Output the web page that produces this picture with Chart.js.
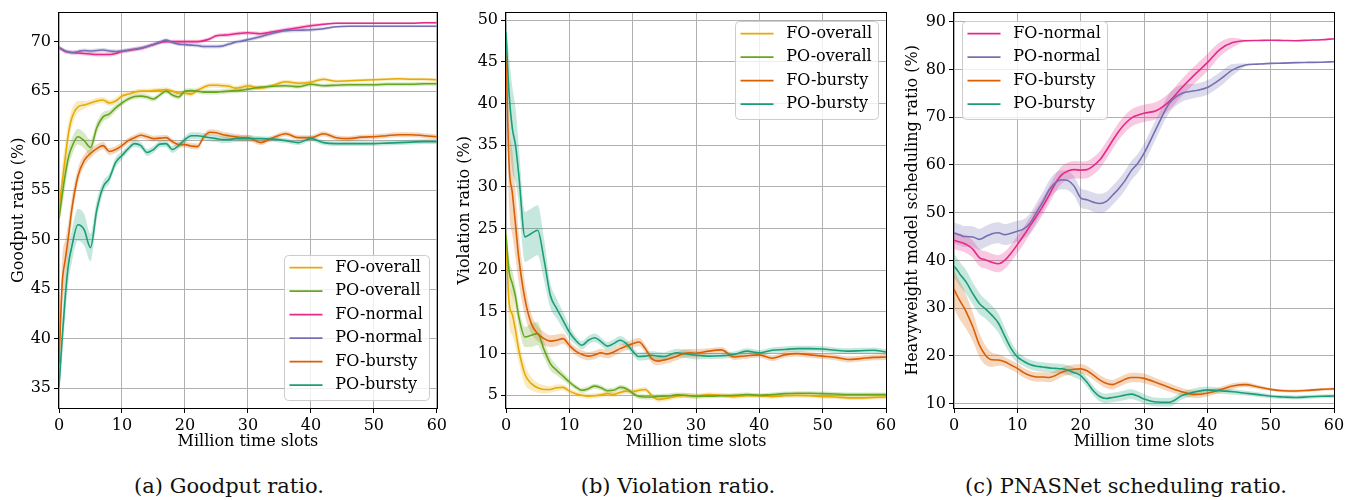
<!DOCTYPE html>
<html>
<head>
<meta charset="utf-8">
<title>Goodput, violation and scheduling ratio</title>
<script src="https://cdn.jsdelivr.net/npm/chart.js@4.4.0/dist/chart.umd.min.js"></script>
<style>
    body { margin: 0; background: #fff; width: 1357px; height: 500px; position: relative; overflow: hidden; }
    canvas { position: absolute; top: 0; }
    .cap { position: absolute; top: 474px; width: 420px; line-height: 25px; text-align: center;
           font-family: "DejaVu Serif", serif; font-size: 21px; color: #111; }
</style>
</head>
<body>

<canvas id="goodput" width="450" height="460" style="left:0"></canvas>
<canvas id="violation" width="450" height="460" style="left:450px"></canvas>
<canvas id="sched" width="457" height="460" style="left:900px"></canvas>

<div class="cap" style="left:19px">(a) Goodput ratio.</div>
<div class="cap" style="left:468px">(b) Violation ratio.</div>
<div class="cap" style="left:916px">(c) PNASNet scheduling ratio.</div>

<script>

    // million time slots (shared x positions)
    const slots = [0, 0.5, 1, 1.5, 2, 3, 4, 5, 6, 7, 8, 9, 10,
        11, 12, 13, 14, 15, 16, 17, 18, 19, 20,
        21, 22, 23, 24, 25, 26, 27, 28, 29, 30,
        32, 34, 36, 38, 40, 42, 44, 46, 48, 50, 52, 54, 56, 58, 60]

    // (a) goodput ratio (%)
    const goodputFOoverall = [53.0, 55.8, 58.3, 60.7, 62.2, 63.4, 63.6, 63.8, 64.0, 64.1, 63.8, 64.0, 64.5,
        64.7, 64.9, 65.0, 65.0, 65.05, 65.1, 65.15, 65.0, 64.8, 64.8,
        64.7, 65.1, 65.4, 65.6, 65.6, 65.55, 65.5, 65.3, 65.4, 65.55,
        65.3, 65.6, 65.95, 65.8, 65.9, 66.2, 66.0, 66.05, 66.1, 66.15, 66.2, 66.25, 66.2, 66.2, 66.15]
    const goodputPOoverall = [52.1, 54.5, 56.6, 58.3, 59.3, 60.4, 60.0, 59.3, 61.3, 62.4, 62.7, 63.3, 63.8,
        64.2, 64.45, 64.5, 64.4, 64.2, 64.6, 65.0, 64.6, 64.4, 65.0,
        65.05, 65.0, 64.9, 64.9, 64.9, 64.95, 65.0, 65.05, 65.1, 65.2,
        65.4, 65.5, 65.55, 65.45, 65.7, 65.55, 65.6, 65.65, 65.65, 65.65, 65.7, 65.7, 65.7, 65.75, 65.75]
    const goodputFOnormal = [69.4, 69.2, 69.0, 68.95, 68.9, 68.85, 68.8, 68.75, 68.7, 68.7, 68.7, 68.8, 69.0,
        69.1, 69.2, 69.3, 69.5, 69.7, 69.9, 70.0, 70.0, 70.0, 70.0,
        70.0, 70.0, 70.1, 70.3, 70.6, 70.65, 70.7, 70.8, 70.85, 70.9,
        70.8, 71.0, 71.2, 71.4, 71.6, 71.75, 71.85, 71.85, 71.85, 71.85, 71.85, 71.85, 71.85, 71.9, 71.9]
    const goodputPOnormal = [69.4, 69.2, 69.05, 68.95, 68.9, 69.0, 69.1, 69.05, 69.1, 69.15, 69.05, 69.0, 69.05,
        69.15, 69.25, 69.35, 69.5, 69.7, 69.95, 70.15, 69.9, 69.75, 69.7,
        69.65, 69.6, 69.5, 69.5, 69.5, 69.55, 69.75, 69.95, 70.05, 70.2,
        70.5, 70.85, 71.1, 71.15, 71.2, 71.3, 71.5, 71.55, 71.55, 71.55, 71.55, 71.55, 71.55, 71.55, 71.55]
    const goodputFObursty = [37.5, 45.5, 48.0, 50.3, 52.9, 56.4, 58.0, 58.7, 59.2, 59.5, 58.9, 59.1, 59.5,
        60.0, 60.3, 60.55, 60.4, 60.2, 60.25, 60.3, 59.9, 59.6, 59.6,
        59.45, 59.4, 60.4, 60.85, 60.8, 60.6, 60.5, 60.4, 60.3, 60.3,
        59.8, 60.3, 60.7, 60.3, 60.3, 60.7, 60.3, 60.2, 60.35, 60.4, 60.5, 60.6, 60.6, 60.5, 60.4]
    const goodputPObursty = [35.1, 40.0, 44.3, 47.5, 49.2, 51.5, 51.0, 49.2, 53.0, 55.3, 56.2, 57.8, 58.5,
        59.2, 59.7, 59.5, 58.8, 59.1, 59.65, 59.7, 59.1, 59.5, 60.1,
        60.5, 60.5, 60.4, 60.3, 60.2, 60.1, 60.1, 60.2, 60.2, 60.2,
        60.2, 60.15, 60.0, 59.8, 60.2, 59.8, 59.7, 59.7, 59.7, 59.7, 59.75, 59.8, 59.85, 59.9, 59.9]

    // half width of the shaded bands
    const goodputFOoverallSpread = [0.3, 1.5, 1.5, 1.2, 0.9, 0.6, 0.4, 0.3, 0.3, 0.3, 0.3, 0.3, 0.3,
        0.25, 0.25, 0.25, 0.25, 0.25, 0.25, 0.25, 0.25, 0.25, 0.25,
        0.25, 0.25, 0.25, 0.25, 0.25, 0.25, 0.25, 0.25, 0.25, 0.25,
        0.2, 0.2, 0.2, 0.2, 0.2, 0.2, 0.15, 0.15, 0.15, 0.15, 0.15, 0.15, 0.15, 0.15, 0.15]
    const goodputPOoverallSpread = [0.5, 1.2, 1.2, 1.0, 0.9, 0.8, 0.8, 0.8, 0.6, 0.5, 0.4, 0.35, 0.3,
        0.25, 0.25, 0.25, 0.25, 0.25, 0.25, 0.25, 0.25, 0.25, 0.25,
        0.25, 0.25, 0.25, 0.25, 0.25, 0.25, 0.25, 0.25, 0.25, 0.25,
        0.2, 0.2, 0.2, 0.2, 0.2, 0.2, 0.2, 0.2, 0.2, 0.2, 0.2, 0.2, 0.2, 0.2, 0.2]
    const goodputFOnormalSpread = [0.2, 0.2, 0.2, 0.2, 0.2, 0.2, 0.2, 0.2, 0.2, 0.2, 0.2, 0.2, 0.2,
        0.2, 0.2, 0.2, 0.2, 0.2, 0.2, 0.2, 0.2, 0.2, 0.2,
        0.2, 0.2, 0.2, 0.2, 0.2, 0.2, 0.2, 0.2, 0.2, 0.2,
        0.2, 0.2, 0.2, 0.2, 0.2, 0.15, 0.1, 0.1, 0.1, 0.1, 0.1, 0.1, 0.1, 0.1, 0.1]
    const goodputPOnormalSpread = [0.2, 0.2, 0.2, 0.2, 0.2, 0.2, 0.2, 0.2, 0.2, 0.2, 0.2, 0.2, 0.2,
        0.2, 0.2, 0.2, 0.2, 0.2, 0.2, 0.2, 0.2, 0.2, 0.2,
        0.2, 0.2, 0.2, 0.2, 0.2, 0.2, 0.2, 0.2, 0.2, 0.2,
        0.2, 0.2, 0.2, 0.2, 0.2, 0.15, 0.1, 0.1, 0.1, 0.1, 0.1, 0.1, 0.1, 0.1, 0.1]
    const goodputFOburstySpread = [0.5, 2.5, 2.0, 1.5, 1.2, 0.8, 0.6, 0.5, 0.4, 0.4, 0.35, 0.35, 0.35,
        0.3, 0.3, 0.3, 0.3, 0.3, 0.3, 0.3, 0.3, 0.3, 0.3,
        0.3, 0.3, 0.3, 0.3, 0.3, 0.3, 0.3, 0.3, 0.3, 0.3,
        0.25, 0.25, 0.25, 0.25, 0.25, 0.25, 0.25, 0.25, 0.25, 0.25, 0.25, 0.25, 0.25, 0.25, 0.25]
    const goodputPOburstySpread = [0.8, 2.0, 2.0, 1.8, 1.6, 1.6, 1.6, 1.4, 1.0, 0.6, 0.5, 0.5, 0.4,
        0.35, 0.35, 0.35, 0.35, 0.35, 0.35, 0.35, 0.35, 0.35, 0.35,
        0.35, 0.35, 0.35, 0.35, 0.35, 0.35, 0.35, 0.35, 0.35, 0.35,
        0.25, 0.25, 0.25, 0.25, 0.25, 0.25, 0.25, 0.25, 0.25, 0.25, 0.25, 0.25, 0.25, 0.25, 0.25]

    // (b) violation ratio (%)
    const violationFOoverall = [23.5, 16.0, 14.7, 12.8, 10.5, 7.5, 6.4, 5.9, 5.7, 5.7, 5.9, 5.95, 5.5,
        5.2, 5.0, 4.9, 4.95, 5.05, 5.2, 5.1, 5.35, 5.5, 5.45,
        5.6, 5.7, 5.0, 4.5, 4.6, 4.75, 4.9, 5.0, 4.95, 4.9,
        5.1, 5.0, 4.85, 4.95, 4.95, 4.85, 4.95, 5.0, 4.95, 4.85, 4.8, 4.7, 4.7, 4.75, 4.8]
    const violationPOoverall = [24.2, 19.8, 18.4, 16.8, 14.5, 12.0, 12.2, 12.4, 10.5, 8.8, 8.0, 7.3, 6.6,
        6.0, 5.6, 5.8, 6.1, 5.9, 5.55, 5.6, 5.95, 5.8, 5.25,
        4.85, 4.8, 4.8, 4.85, 4.9, 4.95, 5.05, 5.0, 4.95, 4.9,
        4.9, 4.95, 5.0, 5.1, 5.0, 5.1, 5.2, 5.25, 5.25, 5.2, 5.15, 5.1, 5.1, 5.1, 5.1]
    const violationFObursty = [46.0, 32.5, 29.3, 25.5, 21.6, 16.5, 13.6, 12.4, 11.8, 11.5, 11.6, 11.8, 11.0,
        10.3, 9.9, 9.7, 9.85, 10.1, 9.95, 10.2, 10.6, 10.9, 11.2,
        11.4, 10.6, 9.4, 9.1, 9.25, 9.45, 9.7, 10.0, 10.1, 10.05,
        10.3, 10.45, 9.6, 9.75, 9.85, 9.45, 9.85, 10.0, 9.85, 9.7, 9.55, 9.3, 9.4, 9.55, 9.6]
    const violationPObursty = [48.5, 41.0, 37.0, 35.0, 31.6, 24.0, 24.4, 24.8, 21.3, 17.0, 15.4, 14.0, 12.6,
        11.6, 11.0, 11.6, 11.9, 11.45, 10.9, 11.2, 11.6, 11.2, 10.3,
        9.65, 9.7, 9.8, 9.7, 9.65, 9.9, 10.1, 10.0, 9.9, 9.8,
        9.7, 9.75, 9.9, 10.3, 10.1, 10.4, 10.5, 10.6, 10.6, 10.55, 10.4, 10.3, 10.35, 10.4, 10.2]

    const violationFOoverallSpread = [1.5, 2.5, 2.5, 2.0, 1.5, 1.2, 0.8, 0.6, 0.5, 0.4, 0.4, 0.35, 0.35,
        0.3, 0.3, 0.3, 0.3, 0.3, 0.3, 0.3, 0.3, 0.3, 0.3,
        0.3, 0.3, 0.3, 0.3, 0.3, 0.3, 0.3, 0.3, 0.3, 0.3,
        0.25, 0.25, 0.25, 0.25, 0.25, 0.25, 0.25, 0.25, 0.25, 0.25, 0.25, 0.25, 0.25, 0.25, 0.25]
    const violationPOoverallSpread = [1.0, 1.5, 1.5, 1.4, 1.3, 1.2, 1.4, 1.4, 1.0, 0.8, 0.6, 0.5, 0.4,
        0.3, 0.3, 0.3, 0.3, 0.3, 0.3, 0.3, 0.3, 0.3, 0.3,
        0.3, 0.3, 0.3, 0.3, 0.3, 0.3, 0.3, 0.3, 0.3, 0.3,
        0.25, 0.25, 0.25, 0.25, 0.25, 0.25, 0.25, 0.25, 0.25, 0.25, 0.25, 0.25, 0.25, 0.25, 0.25]
    const violationFOburstySpread = [2.0, 5.0, 5.0, 4.0, 3.0, 2.0, 1.2, 0.9, 0.8, 0.7, 0.7, 0.6, 0.5,
        0.5, 0.5, 0.5, 0.5, 0.5, 0.5, 0.5, 0.5, 0.5, 0.5,
        0.5, 0.5, 0.5, 0.5, 0.5, 0.5, 0.5, 0.5, 0.5, 0.5,
        0.35, 0.35, 0.35, 0.35, 0.35, 0.35, 0.35, 0.35, 0.35, 0.35, 0.35, 0.35, 0.35, 0.35, 0.35]
    const violationPOburstySpread = [1.5, 4.5, 5.0, 4.5, 3.5, 3.0, 3.0, 3.0, 2.5, 1.5, 1.2, 1.0, 0.8,
        0.5, 0.5, 0.5, 0.5, 0.5, 0.5, 0.5, 0.5, 0.5, 0.5,
        0.5, 0.5, 0.5, 0.5, 0.5, 0.5, 0.5, 0.5, 0.5, 0.5,
        0.35, 0.35, 0.35, 0.35, 0.35, 0.35, 0.35, 0.35, 0.35, 0.35, 0.35, 0.35, 0.35, 0.35, 0.35]

    // (c) heavyweight model scheduling ratio (%)
    const schedFOnormal = [44.2, 44.0, 43.8, 43.6, 43.3, 42.3, 40.6, 40.1, 39.6, 39.3, 40.0, 41.5, 43.3,
        45.2, 47.2, 49.2, 51.3, 53.6, 56.1, 57.9, 58.7, 59.0, 58.9,
        59.0, 59.8, 61.0, 62.9, 65.0, 67.0, 68.6, 69.8, 70.4, 70.8,
        71.4, 73.3, 76.2, 78.9, 81.4, 84.2, 85.6, 86.0, 86.05, 86.1, 86.05, 86.0, 86.1, 86.2, 86.4]
    const schedPOnormal = [45.8, 45.5, 45.3, 45.0, 45.0, 44.9, 44.4, 45.0, 45.6, 45.8, 45.4, 45.7, 46.1,
        46.6, 47.8, 50.0, 52.2, 54.7, 56.3, 56.9, 56.7, 55.5, 53.1,
        52.7, 52.2, 51.9, 52.3, 53.6, 55.0, 56.7, 58.8, 60.3, 62.4,
        67.8, 72.9, 75.0, 75.5, 76.2, 77.9, 79.9, 80.9, 81.1, 81.25, 81.3, 81.4, 81.45, 81.5, 81.6]
    const schedFObursty = [34.0, 32.6, 31.4, 30.3, 29.0, 26.0, 22.3, 20.1, 19.2, 19.15, 18.8, 18.1, 17.4,
        16.5, 15.9, 15.6, 15.6, 15.5, 15.9, 16.6, 17.0, 17.2, 17.3,
        16.9, 16.0, 15.0, 14.3, 14.0, 14.5, 15.1, 15.5, 15.5, 15.3,
        14.4, 13.4, 12.5, 11.95, 12.2, 12.9, 13.7, 14.0, 13.5, 13.0, 12.7, 12.65, 12.8, 13.0, 13.1]
    const schedPObursty = [38.8, 38.0, 37.0, 36.2, 35.3, 33.0, 31.0, 29.8, 28.5, 26.9, 24.2, 21.6, 19.8,
        18.9, 18.2, 17.85, 17.7, 17.5, 17.4, 17.3, 17.0, 16.5, 15.9,
        14.5, 12.7, 11.5, 11.1, 11.3, 11.5, 11.8, 12.0, 11.6, 11.0,
        10.35, 10.3, 11.7, 12.45, 12.9, 12.7, 12.5, 12.2, 11.9, 11.55, 11.4, 11.3, 11.45, 11.55, 11.6]

    const schedFOnormalSpread = [1.8, 1.8, 1.8, 1.8, 1.8, 1.8, 1.8, 1.8, 1.8, 1.8, 1.8, 1.8, 1.8,
        1.8, 1.8, 1.8, 1.8, 1.8, 1.8, 1.8, 1.8, 1.8, 1.8,
        1.8, 1.8, 1.8, 1.8, 1.8, 1.8, 1.8, 1.8, 1.8, 1.8,
        1.8, 1.8, 1.8, 1.8, 1.8, 1.5, 1.0, 0.2, 0.1, 0.1, 0.1, 0.1, 0.1, 0.1, 0.1]
    const schedPOnormalSpread = [2.2, 2.2, 2.2, 2.2, 2.2, 2.2, 2.2, 2.2, 2.2, 2.2, 2.2, 2.2, 2.2,
        2.0, 2.0, 2.0, 2.0, 2.0, 2.0, 2.0, 2.0, 2.0, 2.0,
        2.0, 2.0, 2.0, 2.0, 2.0, 2.0, 2.0, 2.0, 2.0, 2.0,
        2.0, 2.0, 1.8, 1.5, 1.5, 1.5, 1.2, 0.3, 0.1, 0.1, 0.1, 0.1, 0.1, 0.1, 0.1]
    const schedFOburstySpread = [4.0, 4.0, 4.0, 3.8, 3.5, 3.0, 2.5, 2.0, 1.5, 1.2, 1.0, 1.0, 1.0,
        1.0, 1.0, 1.0, 1.0, 1.0, 1.0, 1.0, 1.0, 1.0, 1.0,
        1.0, 1.0, 1.0, 1.0, 1.0, 1.0, 1.0, 1.0, 1.0, 1.0,
        0.9, 0.9, 0.8, 0.8, 0.7, 0.6, 0.6, 0.5, 0.4, 0.3, 0.3, 0.3, 0.3, 0.3, 0.3]
    const schedPOburstySpread = [2.5, 2.5, 2.5, 2.5, 2.5, 2.3, 2.2, 2.0, 2.0, 2.0, 1.8, 1.5, 1.2,
        1.0, 1.0, 1.0, 1.0, 1.0, 1.0, 1.0, 1.0, 1.0, 1.0,
        1.0, 1.0, 1.0, 1.0, 1.0, 1.0, 1.0, 1.0, 1.0, 1.0,
        0.9, 0.9, 0.8, 0.8, 0.7, 0.6, 0.6, 0.5, 0.5, 0.4, 0.4, 0.4, 0.4, 0.4, 0.4]


    const colors = {
        FOoverall: '#e6ab02', POoverall: '#66a61e',
        FOnormal: '#e7298a', POnormal: '#7570b3',
        FObursty: '#d95f02', PObursty: '#1b9e77'
    }

    Chart.defaults.font.family = '"DejaVu Serif", serif'
    Chart.defaults.font.size = 16
    Chart.defaults.color = '#000'

    function fade(hex, a) {
        const n = parseInt(hex.slice(1), 16)
        return `rgba(${n >> 16},${(n >> 8) & 255},${n & 255},${a})`
    }

    function points(values) {
        return slots.map((x, i) => ({x: x, y: values[i]}))
    }

    // line for each series plus an upper/lower pair filled between
    function buildDatasets(series) {
        const lines = series.map(s => ({
            label: s.label,
            data: points(s.values),
            borderColor: s.color,
            borderWidth: 1.6,
            pointRadius: 0,
            fill: false,
            cubicInterpolationMode: 'monotone'
        })).reverse()

        const bands = []
        series.forEach(s => {
            bands.push({
                data: points(s.values.map((v, i) => v + s.spread[i])),
                borderWidth: 0, pointRadius: 0, fill: false,
                cubicInterpolationMode: 'monotone'
            })
            bands.push({
                data: points(s.values.map((v, i) => v - s.spread[i])),
                borderWidth: 0, pointRadius: 0, fill: '-1',
                backgroundColor: fade(s.color, 0.25),
                cubicInterpolationMode: 'monotone'
            })
        })
        return lines.concat(bands)
    }

    const frame = {
        id: 'frame',
        afterDatasetsDraw(chart) {
            const {ctx, chartArea: a} = chart
            ctx.save()
            ctx.strokeStyle = '#000'
            ctx.lineWidth = 1
            ctx.strokeRect(Math.round(a.left) - 0.5, Math.round(a.top) - 0.5,
                Math.round(a.width) + 1, Math.round(a.height) + 1)
            ctx.restore()
        }
    }

    // matplotlib-like legend box
    const boxLegend = {
        id: 'boxLegend',
        afterDraw(chart, args, opts) {
            const {ctx, chartArea: a} = chart
            const items = opts.items
            const rowH = 23.5, handle = 33
            ctx.save()
            ctx.font = '16px "DejaVu Serif"'
            const textW = Math.max(...items.map(s => ctx.measureText(s.label).width))
            const w = 5.5 + handle + 12.7 + textW + 6
            const h = (items.length - 1) * rowH + 27.4
            const x = opts.corner.includes('right') ? a.right - 8 - w : a.left + 8
            const y = opts.corner.includes('lower') ? a.bottom - 8.5 - h : a.top + 8

            ctx.beginPath()
            ctx.roundRect(Math.round(x) + 0.5, Math.round(y) + 0.5, Math.round(w), Math.round(h), 4)
            ctx.fillStyle = 'rgba(255,255,255,0.8)'
            ctx.fill()
            ctx.strokeStyle = '#cccccc'
            ctx.lineWidth = 1
            ctx.stroke()

            items.forEach((s, i) => {
                const cy = y + 13 + rowH * i
                ctx.beginPath()
                ctx.moveTo(x + 5.5, cy)
                ctx.lineTo(x + 5.5 + handle, cy)
                ctx.strokeStyle = s.color
                ctx.lineWidth = 1.6
                ctx.stroke()
                ctx.fillStyle = '#000'
                ctx.textBaseline = 'middle'
                ctx.fillText(s.label, x + 5.5 + handle + 12.7, cy)
            })
            ctx.restore()
        }
    }

    function drawPanel(id, series, opts) {
        new Chart(document.getElementById(id), {
            type: 'line',
            data: {datasets: buildDatasets(series)},
            plugins: [frame, boxLegend],
            options: {
                responsive: false,
                devicePixelRatio: 1,
                animation: false,
                layout: {padding: {left: 0, right: opts.right, top: 12, bottom: 0}},
                plugins: {
                    legend: {display: false},
                    tooltip: {enabled: false},
                    boxLegend: {items: series, corner: opts.corner}
                },
                scales: {
                    x: {
                        type: 'linear', min: 0, max: 60,
                        afterFit: scale => { scale.height = 52 },
                        ticks: {stepSize: 10, includeBounds: false, autoSkip: false, maxRotation: 0, padding: 3},
                        grid: {color: '#b0b0b0', lineWidth: 1, tickColor: '#000', tickLength: 5},
                        border: {display: false},
                        title: {display: true, text: 'Million time slots', padding: {top: 0, bottom: 8.7}}
                    },
                    y: {
                        type: 'linear', min: opts.min, max: opts.max,
                        afterFit: scale => { scale.width = opts.left },
                        ticks: {stepSize: opts.step, includeBounds: false, autoSkip: false, padding: 3},
                        grid: {color: '#b0b0b0', lineWidth: 1, tickColor: '#000', tickLength: 5},
                        border: {display: false},
                        title: {display: true, text: opts.title, padding: {top: opts.titlePad, bottom: 0}}
                    }
                }
            }
        })
    }

    drawPanel('goodput', [
        {label: 'FO-overall', color: colors.FOoverall, values: goodputFOoverall, spread: goodputFOoverallSpread},
        {label: 'PO-overall', color: colors.POoverall, values: goodputPOoverall, spread: goodputPOoverallSpread},
        {label: 'FO-normal', color: colors.FOnormal, values: goodputFOnormal, spread: goodputFOnormalSpread},
        {label: 'PO-normal', color: colors.POnormal, values: goodputPOnormal, spread: goodputPOnormalSpread},
        {label: 'FO-bursty', color: colors.FObursty, values: goodputFObursty, spread: goodputFOburstySpread},
        {label: 'PO-bursty', color: colors.PObursty, values: goodputPObursty, spread: goodputPOburstySpread}
    ], {min: 33.0, max: 72.93, step: 5, title: 'Goodput ratio (%)', left: 59, right: 11, titlePad: 9, corner: 'lower right'})

    drawPanel('violation', [
        {label: 'FO-overall', color: colors.FOoverall, values: violationFOoverall, spread: violationFOoverallSpread},
        {label: 'PO-overall', color: colors.POoverall, values: violationPOoverall, spread: violationPOoverallSpread},
        {label: 'FO-bursty', color: colors.FObursty, values: violationFObursty, spread: violationFOburstySpread},
        {label: 'PO-bursty', color: colors.PObursty, values: violationPObursty, spread: violationPOburstySpread}
    ], {min: 3.48, max: 50.9, step: 5, title: 'Violation ratio (%)', left: 56, right: 14, titlePad: 5, corner: 'upper right'})

    drawPanel('sched', [
        {label: 'FO-normal', color: colors.FOnormal, values: schedFOnormal, spread: schedFOnormalSpread},
        {label: 'PO-normal', color: colors.POnormal, values: schedPOnormal, spread: schedPOnormalSpread},
        {label: 'FO-bursty', color: colors.FObursty, values: schedFObursty, spread: schedFOburstySpread},
        {label: 'PO-bursty', color: colors.PObursty, values: schedPObursty, spread: schedPOburstySpread}
    ], {min: 9.1, max: 91.88, step: 10, title: 'Heavyweight model scheduling ratio (%)', left: 54, right: 23, titlePad: 3, corner: 'upper left'})

</script>
</body>
</html>
